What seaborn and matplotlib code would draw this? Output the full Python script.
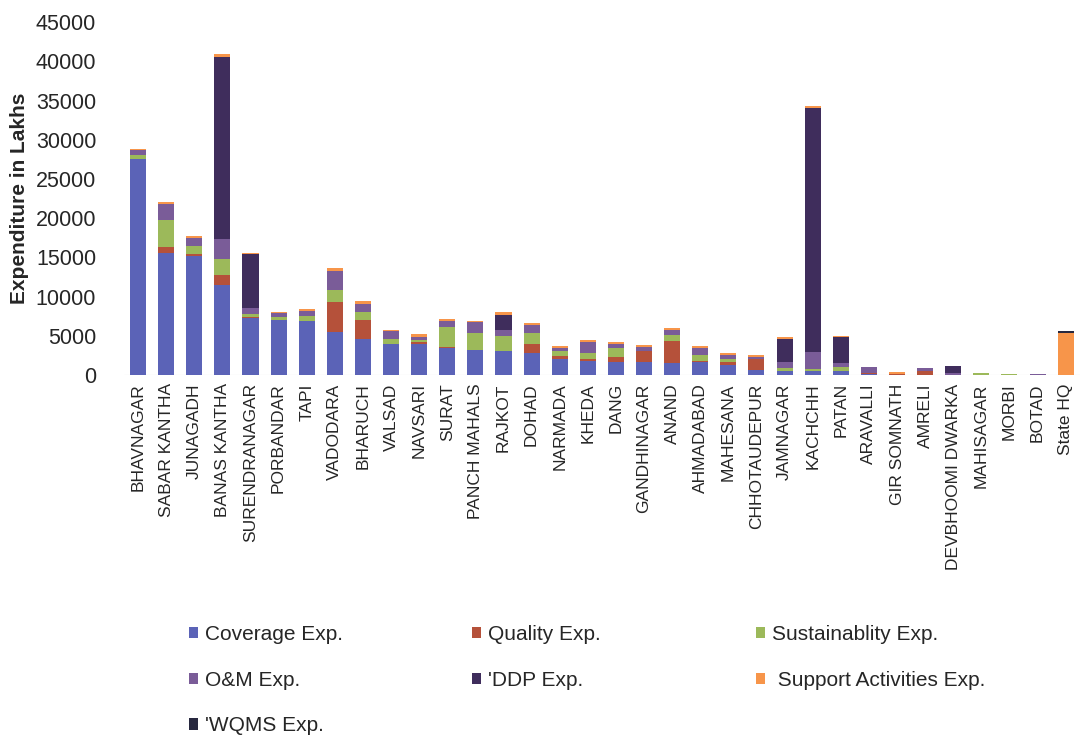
import numpy as np
import pandas as pd
import matplotlib
matplotlib.use("Agg")
import matplotlib.pyplot as plt
from matplotlib.patches import Patch
import seaborn as sns

# districts on the x axis
districts = ["BHAVNAGAR", "SABAR KANTHA", "JUNAGADH", "BANAS KANTHA", "SURENDRANAGAR",
             "PORBANDAR", "TAPI", "VADODARA", "BHARUCH", "VALSAD", "NAVSARI", "SURAT",
             "PANCH MAHALS", "RAJKOT", "DOHAD", "NARMADA", "KHEDA", "DANG", "GANDHINAGAR",
             "ANAND", "AHMADABAD", "MAHESANA", "CHHOTAUDEPUR", "JAMNAGAR", "KACHCHH",
             "PATAN", "ARAVALLI", "GIR SOMNATH", "AMRELI", "DEVBHOOMI DWARKA",
             "MAHISAGAR", "MORBI", "BOTAD", "State HQ"]

# expenditure components (Lakhs)
coverage = [27500, 15500, 15200, 11500, 7300, 7000, 6900, 5500, 4600, 3900, 3900, 3500,
            3200, 3100, 2800, 2000, 1800, 1700, 1700, 1500, 1600, 1300, 700, 500, 500,
            500, 100, 0, 0, 0, 0, 0, 0, 0]
quality = [100, 800, 200, 1300, 100, 0, 0, 3800, 2400, 100, 300, 100,
           0, 0, 1100, 400, 300, 600, 1300, 2800, 200, 400, 1400, 0, 0,
           0, 200, 100, 500, 0, 0, 0, 0, 0]
sustainability = [400, 3500, 1000, 2000, 400, 400, 600, 1600, 1000, 600, 300, 2500,
                  2100, 1900, 1500, 600, 700, 1100, 100, 800, 750, 300, 0, 400, 300,
                  500, 0, 0, 0, 0, 200, 80, 0, 0]
om = [700, 2000, 1100, 2600, 800, 500, 700, 2300, 1100, 1000, 300, 800,
      1400, 800, 1000, 400, 1400, 550, 500, 600, 850, 500, 200, 800, 2100,
      500, 700, 0, 400, 200, 0, 0, 150, 0]
ddp = [0, 0, 0, 23200, 6800, 0, 0, 0, 0, 0, 0, 0,
       0, 1800, 0, 0, 0, 0, 0, 0, 0, 0, 0, 2900, 31100,
       3400, 0, 0, 0, 1000, 0, 0, 0, 0]
support = [100, 200, 200, 300, 200, 100, 200, 400, 300, 200, 400, 300,
           200, 400, 200, 300, 200, 250, 200, 300, 300, 300, 200, 200, 300,
           100, 0, 300, 0, 0, 100, 0, 0, 5300]
wqms = [0, 0, 0, 0, 0, 0, 0, 0, 0, 0, 0, 0,
        0, 0, 0, 0, 0, 0, 0, 0, 0, 0, 0, 0, 0,
        0, 0, 0, 0, 0, 0, 0, 0, 300]

series = ["Coverage Exp.", "Quality Exp.", "Sustainablity Exp.", "O&M Exp.",
          "'DDP Exp.", " Support Activities Exp.", "'WQMS Exp."]
colors = ["#5b63b7", "#b5513a", "#9cb95a", "#7a5c98", "#3f2d5c", "#f7954a", "#27283f"]

df = pd.DataFrame({"district": districts})
for name, vals in zip(series, [coverage, quality, sustainability, om, ddp, support, wqms]):
    df[name] = vals
cum = df[series].cumsum(axis=1)

sns.set_theme(style="white")
plt.rcParams["font.family"] = ["Liberation Sans", "DejaVu Sans"]

fig = plt.figure(figsize=(10.83, 7.36), dpi=100)
ax = fig.add_axes([0.1145, 0.4905, 0.8825, 0.4795])

# stacked bars: draw cumulative totals from the top layer down
for name, col in reversed(list(zip(series, colors))):
    sns.barplot(x=df["district"], y=cum[name], color=col, saturation=1,
                width=0.57, errorbar=None, ax=ax, order=districts,
                linewidth=0, edgecolor="none")

ax.axhline(0, color="#d0d0d0", lw=0.8, zorder=0)
ax.set_ylim(0, 45000)
ax.set_xlim(-0.5, len(districts) - 0.5)
ax.set_yticks(np.arange(0, 45001, 5000))
ax.tick_params(axis="y", labelsize=15.5, pad=20, length=0)
ax.tick_params(axis="x", labelsize=12.5, rotation=90, pad=6, length=0)
ax.set_xlabel("")
ax.set_ylabel("Expenditure in Lakhs", fontsize=15, fontweight="bold", labelpad=5)
sns.despine(ax=ax, left=True, bottom=True)

# legend laid out in three columns below the chart
cols = [[0, 3, 6], [1, 4], [2, 5]]
xs = [189 / 1083, 472 / 1083, 756 / 1083]
for idx, x in zip(cols, xs):
    handles = [Patch(facecolor=colors[i], edgecolor="none") for i in idx]
    fig.legend(handles, [series[i] for i in idx], loc="upper left",
               bbox_to_anchor=(x, 1 - 625 / 736), frameon=False, fontsize=15,
               handlelength=0.45, handleheight=0.45, handletextpad=0.3,
               labelspacing=1.28, borderpad=0, borderaxespad=0)

fig.savefig("out.png", dpi=100)
